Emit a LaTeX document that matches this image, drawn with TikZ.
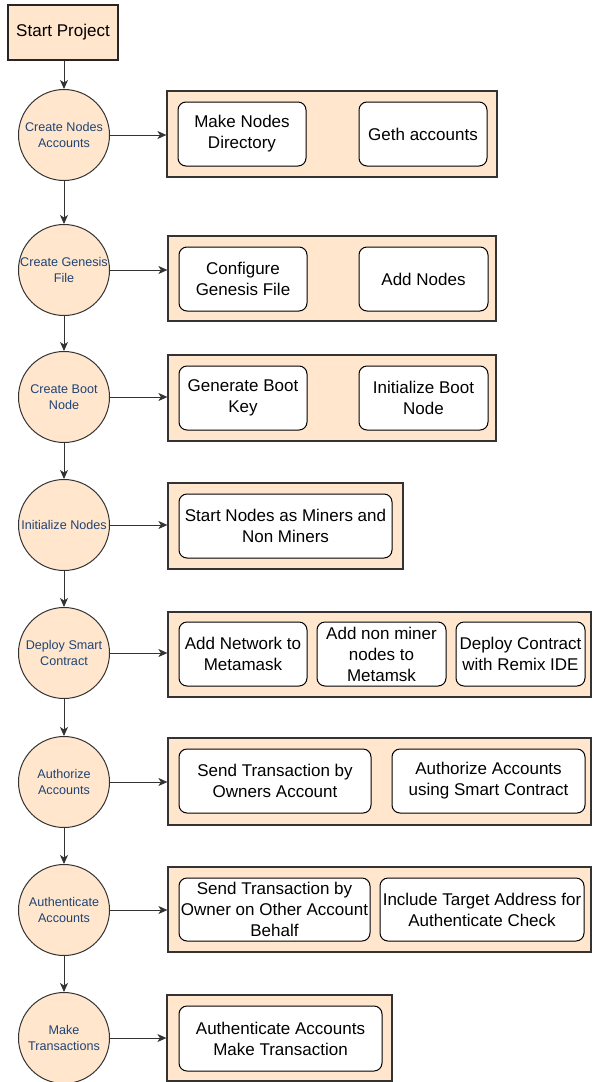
\documentclass[tikz,border=0pt]{standalone}
\usepackage{fontspec}
\setmainfont{Liberation Sans}
\usetikzlibrary{arrows.meta}
\definecolor{peach}{HTML}{FFE6CC}
\definecolor{circtext}{HTML}{1F4475}
\definecolor{linegray}{HTML}{333333}
\begin{document}
\begin{tikzpicture}[x=1pt,y=-1pt,
 startbox/.style={draw=black!85, line width=2pt, fill=peach, minimum width=110pt, minimum height=55pt, inner sep=0pt, font=\fontsize{17}{21}\selectfont},
 stepcirc/.style={circle, draw=linegray, line width=1pt, fill=peach, minimum size=91pt, inner sep=0pt, align=center, text=circtext, font=\fontsize{12.6}{15.7}\selectfont},
 groupbox/.style={draw=linegray, line width=1.2pt, fill=peach, inner sep=0pt},
 taskbox/.style={draw=black, line width=1pt, fill=white, rounded corners=8pt, minimum height=64pt, inner sep=0pt, align=center, font=\fontsize{17}{21}\selectfont},
 arr/.style={draw=linegray, line width=1pt, -{Stealth[length=9pt,width=8pt,inset=2.5pt]}}
]
\useasboundingbox (0,0) rectangle (592,1082);

% start
\node[startbox] (start) at (63,32.5) {Start Project};

% circles
\node[stepcirc] (c1) at (64,135) {Create Nodes\\Accounts};
\node[stepcirc] (c2) at (64,270) {Create Genesis\\File};
\node[stepcirc] (c3) at (64,397) {Create Boot\\Node};
\node[stepcirc] (c4) at (64,525) {Initialize Nodes};
\node[stepcirc] (c5) at (64,653) {Deploy Smart\\Contract};
\node[stepcirc] (c6) at (64,782) {Authorize\\Accounts};
\node[stepcirc] (c7) at (64,910) {Authenticate\\Accounts};
\node[stepcirc] (c8) at (64,1038) {Make\\Transactions};

% groups
\node[groupbox, minimum width=330pt, minimum height=86pt] (g1) at (332,134) {};
\node[groupbox, minimum width=328pt, minimum height=85pt] (g2) at (332,278.5) {};
\node[groupbox, minimum width=328pt, minimum height=86pt] (g3) at (332,398) {};
\node[groupbox, minimum width=235pt, minimum height=86pt] (g4) at (285.5,526) {};
\node[groupbox, minimum width=423pt, minimum height=85pt] (g5) at (379.5,654.5) {};
\node[groupbox, minimum width=423pt, minimum height=87pt] (g6) at (379.5,781.5) {};
\node[groupbox, minimum width=423pt, minimum height=85pt] (g7) at (379.5,909.5) {};
\node[groupbox, minimum width=225pt, minimum height=86pt] (g8) at (279.5,1038) {};

% tasks
\node[taskbox, minimum width=128pt] (t1a) at (242,134) {Make Nodes\\Directory};
\node[taskbox, minimum width=128pt] (t1b) at (423,134) {Geth accounts};
\node[taskbox, minimum width=128pt] (t2a) at (243,279) {Configure\\Genesis File};
\node[taskbox, minimum width=129pt] (t2b) at (423.5,279) {Add Nodes};
\node[taskbox, minimum width=128pt] (t3a) at (243,398) {Generate Boot\\Key};
\node[taskbox, minimum width=129pt] (t3b) at (423.5,398) {Initialize Boot\\Node};
\node[taskbox, minimum width=213pt] (t4a) at (285.5,526) {Start Nodes as Miners and\\Non Miners};
\node[taskbox, minimum width=128pt] (t5a) at (243,654) {Add Network to\\Metamask};
\node[taskbox, minimum width=129pt] (t5b) at (381.5,654) {Add non miner\\nodes to\\Metamsk};
\node[taskbox, minimum width=129pt] (t5c) at (520.5,654) {Deploy Contract\\with Remix IDE};
\node[taskbox, minimum width=192pt] (t6a) at (275,781) {Send Transaction by\\Owners Account};
\node[taskbox, minimum width=193pt] (t6b) at (488.5,781) {Authorize Accounts\\using Smart Contract};
\node[taskbox, minimum width=191pt, minimum height=63pt] (t7a) at (274.5,909.5) {Send Transaction by\\Owner on Other Account\\Behalf};
\node[taskbox, minimum width=204pt, minimum height=63pt] (t7b) at (482,909.5) {Include Target Address for\\Authenticate Check};
\node[taskbox, minimum width=203pt, minimum height=65pt] (t8a) at (280.5,1038.5) {Authenticate Accounts\\Make Transaction};

% vertical arrows
\draw[arr] (c1.north |- start.south) -- (c1.north);
\draw[arr] (c1) -- (c2);
\draw[arr] (c2) -- (c3);
\draw[arr] (c3) -- (c4);
\draw[arr] (c4) -- (c5);
\draw[arr] (c5) -- (c6);
\draw[arr] (c6) -- (c7);
\draw[arr] (c7) -- (c8);

% horizontal arrows
\foreach \i in {1,...,8} {
  \draw[arr] (c\i.east) -- (c\i.east -| g\i.west);
}
\end{tikzpicture}
\end{document}
